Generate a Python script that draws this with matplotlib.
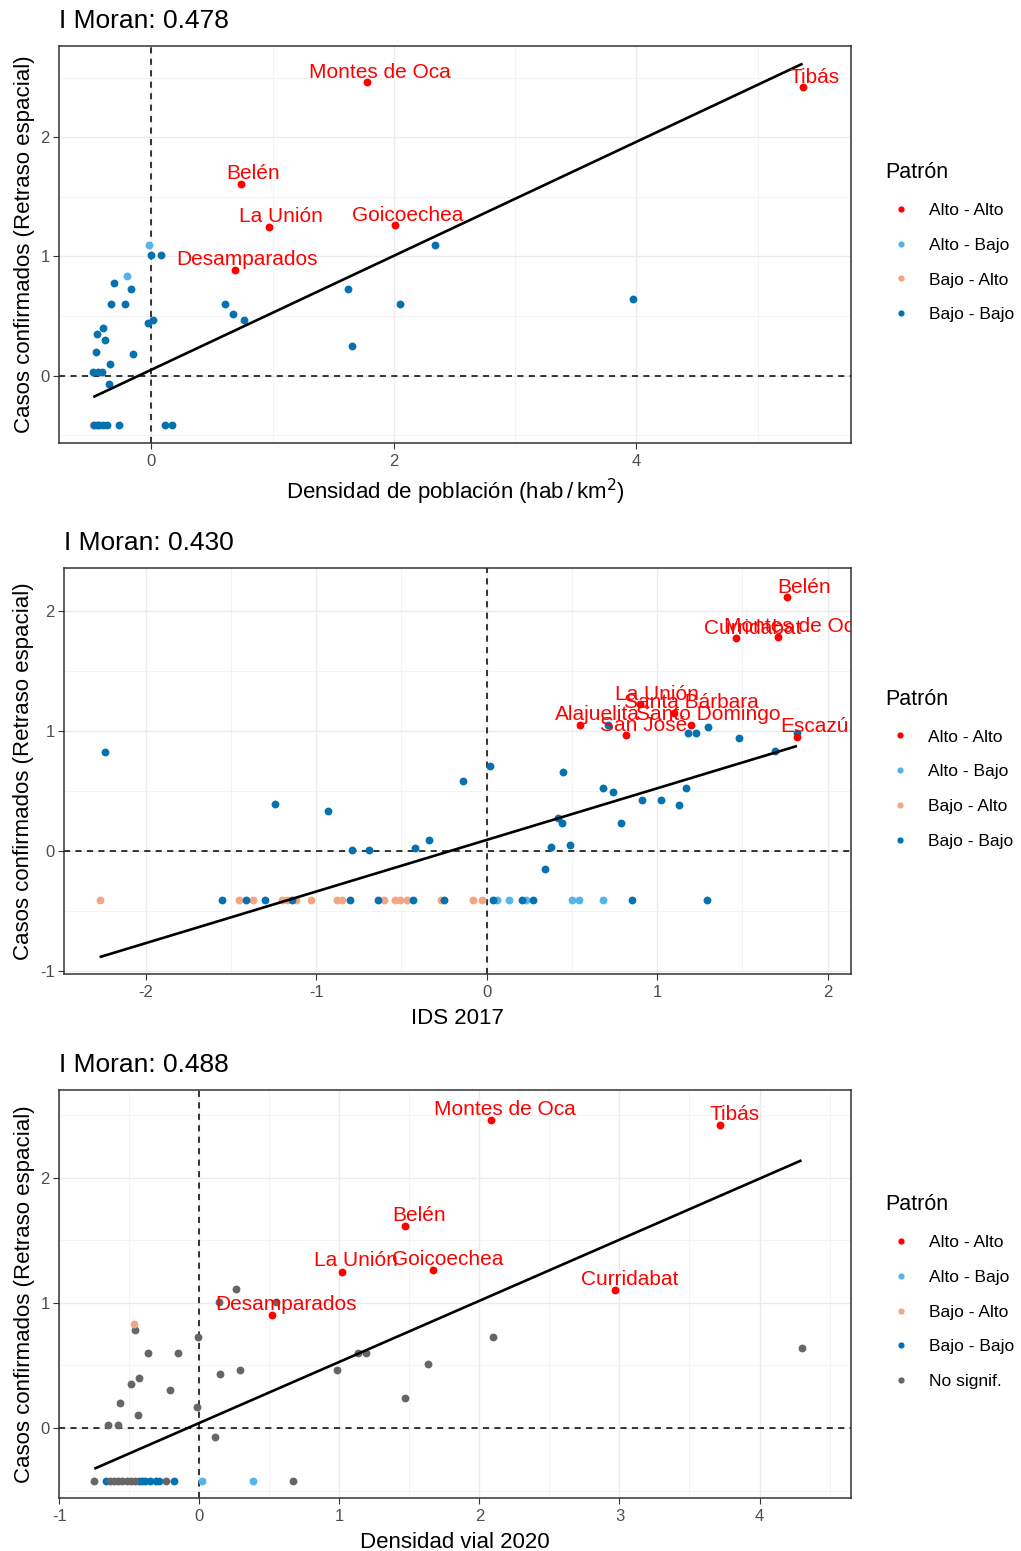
import matplotlib
matplotlib.use('Agg')  # render off-screen
import matplotlib.pyplot as plt
from matplotlib.lines import Line2D
from matplotlib.ticker import MultipleLocator
import numpy as np

plt.rcParams['font.family'] = ['Liberation Sans', 'DejaVu Sans']
plt.rcParams['axes.unicode_minus'] = False

# ===== Panel 1: Densidad de poblacion =====
p1_moran = 0.478
p1_intercept = 0.05
p1_aa_x = [1.78, 0.74, 0.97, 2.01, 0.69, 5.37]
p1_aa_y = [2.46, 1.61, 1.25, 1.26, 0.89, 2.42]
p1_aa_names = ['Montes de Oca', 'Belén', 'La Unión', 'Goicoechea', 'Desamparados', 'Tibás']
p1_ab_x = [-0.02, -0.20]
p1_ab_y = [1.10, 0.84]
p1_ba_x = [-0.48]
p1_ba_y = [-0.41]
p1_bb_x = [0.00, 0.08, -0.31, -0.17, -0.33, -0.22, -0.03, 0.01, -0.40, -0.45, -0.38, -0.46,
           -0.15, -0.34, -0.48, -0.44, -0.41, -0.35, -0.47, -0.45, -0.43, -0.40, -0.37, -0.27,
           0.11, 0.17, 0.61, 0.67, 0.76, 1.62, 1.65, 2.34, 2.05, 3.97]
p1_bb_y = [1.01, 1.01, 0.78, 0.73, 0.60, 0.60, 0.44, 0.47, 0.40, 0.35, 0.30, 0.20,
           0.18, 0.10, 0.03, 0.03, 0.03, -0.07, -0.41, -0.41, -0.41, -0.41, -0.41, -0.41,
           -0.41, -0.41, 0.60, 0.52, 0.47, 0.73, 0.25, 1.10, 0.60, 0.64]

# ===== Panel 2: IDS 2017 =====
p2_moran = 0.430
p2_intercept = 0.09
p2_aa_x = [1.76, 1.46, 1.71, 0.90, 1.10, 0.55, 0.82, 1.20, 1.82]
p2_aa_y = [2.11, 1.77, 1.78, 1.22, 1.15, 1.05, 0.96, 1.05, 0.95]
p2_aa_names = ['Belén', 'Curridabat', 'Montes de Oca', 'La Unión', 'Santa Bárbara',
               'Alajuelita', 'San José', 'Santo Domingo', 'Escazú']
p2_ab_x = [0.06, 0.13, 0.23, 0.50, 0.54, 0.68]
p2_ab_y = [-0.41, -0.41, -0.41, -0.41, -0.41, -0.41]
p2_ba_x = [-2.27, -1.45, -1.37, -1.20, -1.17, -1.12, -1.03, -0.88, -0.85, -0.60, -0.54,
           -0.51, -0.47, -0.27, -0.08, -0.03]
p2_ba_y = [-0.41] * 16
p2_bb_x = [-2.24, -1.24, -0.93, -0.79, -0.69, -0.42, -0.34, -0.14, 0.02, 0.45, 0.68, 0.74,
           0.91, 1.02, 1.13, 1.17, 0.79, 0.42, 0.44, 0.38, 0.49, 0.34, 0.71, 1.18, 1.23,
           1.30, 1.48, 1.82, 1.69,
           -1.55, -1.41, -1.30, -1.14, -0.80, -0.64, -0.43, -0.25, 0.04, 0.21, 0.27, 0.85, 1.29]
p2_bb_y = [0.82, 0.39, 0.33, 0.01, 0.01, 0.02, 0.09, 0.58, 0.71, 0.66, 0.52, 0.49,
           0.42, 0.42, 0.38, 0.52, 0.23, 0.27, 0.23, 0.03, 0.05, -0.15, 1.05, 0.98, 0.98,
           1.03, 0.94, 0.98, 0.83,
           -0.41, -0.41, -0.41, -0.41, -0.41, -0.41, -0.41, -0.41, -0.41, -0.41, -0.41, -0.41, -0.41]

# ===== Panel 3: Densidad vial 2020 =====
p3_moran = 0.488
p3_intercept = 0.04
p3_aa_x = [2.08, 1.47, 1.02, 1.67, 0.52, 3.72, 2.97]
p3_aa_y = [2.46, 1.61, 1.25, 1.26, 0.90, 2.42, 1.10]
p3_aa_names = ['Montes de Oca', 'Belén', 'La Unión', 'Goicoechea', 'Desamparados',
               'Tibás', 'Curridabat']
p3_ab_x = [0.02, 0.38]
p3_ab_y = [-0.42, -0.42]
p3_ba_x = [-0.47]
p3_ba_y = [0.83]
p3_bb_x = [-0.67, -0.43, -0.41, -0.39, -0.35, -0.31, -0.29, -0.18]
p3_bb_y = [-0.42] * 8
p3_ns_x = [0.26, 0.14, 0.55, -0.46, -0.01, -0.37, -0.15, 0.15, 0.29, -0.49, -0.43, -0.21,
           -0.57, -0.44, -0.02, -0.65, -0.58, 0.11, 0.98, 1.13, 1.19, 1.63, 1.47, 2.10, 4.30,
           -0.75, -0.64, -0.61, -0.58, -0.55, -0.52, -0.49, -0.46, -0.24, 0.67]
p3_ns_y = [1.11, 1.01, 1.01, 0.78, 0.73, 0.60, 0.60, 0.43, 0.46, 0.35, 0.40, 0.30,
           0.20, 0.10, 0.17, 0.02, 0.02, -0.07, 0.46, 0.60, 0.60, 0.51, 0.24, 0.73, 0.64,
           -0.42, -0.42, -0.42, -0.42, -0.42, -0.42, -0.42, -0.42, -0.42, -0.42]

pattern_labels = ['Alto - Alto', 'Alto - Bajo', 'Bajo - Alto', 'Bajo - Bajo', 'No signif.']
pattern_colors = ['#FF0000', '#56B4E9', '#F4A582', '#0571B0', '#666666']


def draw_panel(ax, groups, names_xy, moran, intercept, xlabel, xlim, ylim, xmajor, n_legend):
    ax.set_facecolor('white')
    ax.axhline(0, color='black', lw=1.1, ls=(0, (4, 3.5)), zorder=1.5)
    ax.axvline(0, color='black', lw=1.1, ls=(0, (4, 3.5)), zorder=1.5)

    all_x = []
    for (gx, gy), col in groups:
        ax.scatter(gx, gy, s=32, color=col, linewidths=0, zorder=2)
        all_x += list(gx)

    # regression line over the data range (slope = I de Moran)
    xs = np.array([min(all_x), max(all_x)])
    ax.plot(xs, intercept + moran * xs, color='black', lw=1.9, zorder=3,
            solid_capstyle='butt')

    nx, ny, names = names_xy
    for x, y, name in zip(nx, ny, names):
        ax.text(x + 0.1, y + 0.085, name, color='#FF0000', fontsize=15,
                ha='center', va='center', zorder=4, clip_on=True)

    ax.set_xlim(*xlim)
    ax.set_ylim(*ylim)
    ax.xaxis.set_major_locator(MultipleLocator(xmajor))
    ax.xaxis.set_minor_locator(MultipleLocator(xmajor / 2))
    ax.yaxis.set_major_locator(MultipleLocator(1))
    ax.yaxis.set_minor_locator(MultipleLocator(0.5))
    ax.grid(which='major', color='#EBEBEB', lw=1.0, zorder=0)
    ax.grid(which='minor', color='#F2F2F2', lw=0.6, zorder=0)
    ax.set_axisbelow(True)
    ax.tick_params(which='major', length=4, width=0.8, color='#333333',
                   labelsize=12, labelcolor='#4D4D4D', pad=3)
    ax.tick_params(axis='x', which='major', pad=4)
    ax.tick_params(which='minor', length=0)
    for sp in ax.spines.values():
        sp.set_color('#333333')
        sp.set_linewidth(1.1)

    ax.set_title(f'I Moran: {moran:.3f}', loc='left', fontsize=19, pad=13)
    ax.set_xlabel(xlabel, fontsize=16, labelpad=6)
    ax.set_ylabel('Casos confirmados (Retraso espacial)', fontsize=16, labelpad=4)

    handles = [Line2D([], [], ls='', marker='o', markersize=4.5, color=c,
                      markeredgewidth=0)
               for c in pattern_colors[:n_legend]]
    leg = ax.legend(handles, pattern_labels[:n_legend], title='Patrón',
                    loc='center left', bbox_to_anchor=(1.043, 0.505), frameon=False,
                    fontsize=12.5, title_fontsize=15.5, alignment='left',
                    borderpad=0, borderaxespad=0, handlelength=1.8,
                    handletextpad=0.7, labelspacing=1.13)
    return leg


fig = plt.figure(figsize=(10.21, 15.51), dpi=100)
ax1 = fig.add_axes([0.0581, 0.7146, 0.7755, 0.2558])
ax2 = fig.add_axes([0.0630, 0.3720, 0.7705, 0.2620])
ax3 = fig.add_axes([0.0581, 0.0344, 0.7755, 0.2628])

draw_panel(ax1,
           [((p1_ab_x, p1_ab_y), pattern_colors[1]),
            ((p1_ba_x, p1_ba_y), pattern_colors[2]),
            ((p1_bb_x, p1_bb_y), pattern_colors[3]),
            ((p1_aa_x, p1_aa_y), pattern_colors[0])],
           (p1_aa_x, p1_aa_y, p1_aa_names), p1_moran, p1_intercept,
           r'Densidad de población (hab$\,$/$\,$km$^{2}$)',
           (-0.76, 5.77), (-0.562, 2.766), 2, 4)

draw_panel(ax2,
           [((p2_ba_x, p2_ba_y), pattern_colors[2]),
            ((p2_ab_x, p2_ab_y), pattern_colors[1]),
            ((p2_bb_x, p2_bb_y), pattern_colors[3]),
            ((p2_aa_x, p2_aa_y), pattern_colors[0])],
           (p2_aa_x, p2_aa_y, p2_aa_names), p2_moran, p2_intercept,
           'IDS 2017', (-2.477, 2.137), (-1.027, 2.358), 1, 4)

draw_panel(ax3,
           [((p3_bb_x, p3_bb_y), pattern_colors[3]),
            ((p3_ns_x, p3_ns_y), pattern_colors[4]),
            ((p3_ab_x, p3_ab_y), pattern_colors[1]),
            ((p3_ba_x, p3_ba_y), pattern_colors[2]),
            ((p3_aa_x, p3_aa_y), pattern_colors[0])],
           (p3_aa_x, p3_aa_y, p3_aa_names), p3_moran, p3_intercept,
           'Densidad vial 2020', (-1.0, 4.654), (-0.557, 2.70), 1, 5)

fig.savefig('out.png', dpi=100)
plt.close(fig)
